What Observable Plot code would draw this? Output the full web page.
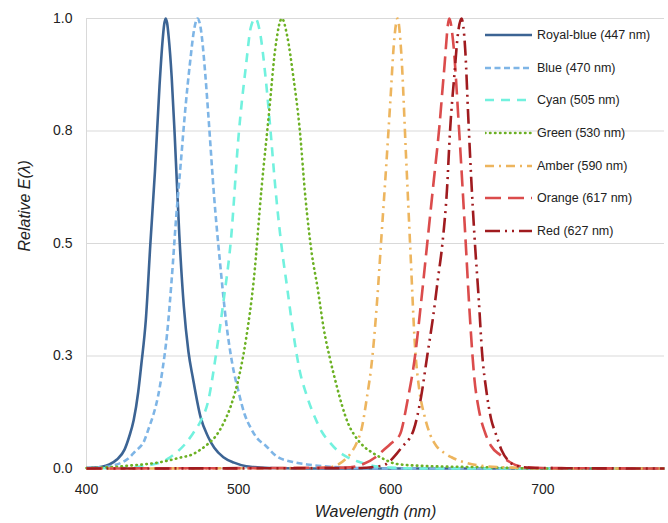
<!DOCTYPE html>
<html><head><meta charset="utf-8">
<script src="https://cdn.jsdelivr.net/npm/d3@7"></script>
<script src="https://cdn.jsdelivr.net/npm/@observablehq/plot@0.6"></script>
<style>
body{margin:0;background:#fff;font-family:"Liberation Sans",Arial,Helvetica,sans-serif;}
#wrap{position:relative;width:668px;height:523px;}
#legend{position:absolute;left:485px;top:18.6px;}
.row{display:flex;align-items:center;height:32.7px;font-size:12.5px;color:#222;white-space:nowrap;}
.row svg{margin-right:5px;display:block;}
</style></head><body><div id="wrap"><div id="chart"></div><div id="legend"></div></div>
<script>
const seriesNames = ["Royal-blue (447 nm)","Blue (470 nm)","Cyan (505 nm)","Green (530 nm)","Amber (590 nm)","Orange (617 nm)","Red (627 nm)"];
const xTicks = [400,500,600,700];
const yTicks = [0,0.25,0.5,0.75,1];

const royalBlueNm  = [400,410,415,420,425,428,431,434,436,439,442,445,448,450,451,452,453,454,456,458,461,464,467,470,475,480,484,490,497,505,510,520,540,780];
const royalBlueVal = [0.001,0.004,0.009,0.02,0.042,0.07,0.107,0.17,0.23,0.33,0.5,0.66,0.85,0.95,0.985,1.0,0.99,0.96,0.87,0.74,0.52,0.36,0.26,0.2,0.114,0.07,0.046,0.025,0.013,0.005,0.003,0.001,0,0];

const blueNm  = [400,410,418,423,427,432,438,441,444,447,450,453,456,459,462,465,468,471,473,475,478,480,484,488,492,496,500,504,508,512,518,525,535,545,560,580,600,780];
const blueVal = [0.001,0.003,0.007,0.013,0.021,0.038,0.062,0.09,0.12,0.16,0.22,0.3,0.42,0.56,0.68,0.8,0.9,0.98,1.0,0.98,0.88,0.79,0.6,0.45,0.32,0.23,0.17,0.12,0.09,0.068,0.05,0.027,0.015,0.009,0.004,0.001,0,0];

const cyanNm  = [400,430,440,450,455,460,465,470,475,480,485,490,495,500,505,508,511,514,518,521,524,528,532,536,540,545,550,555,560,565,570,578,590,600,620,780];
const cyanVal = [0,0.002,0.007,0.015,0.025,0.038,0.055,0.078,0.105,0.15,0.25,0.37,0.51,0.74,0.9,0.98,1.0,0.97,0.86,0.75,0.63,0.5,0.4,0.3,0.22,0.16,0.115,0.08,0.058,0.04,0.028,0.016,0.005,0.002,0,0];

const greenNm  = [400,410,420,430,440,450,460,470,475,480,485,490,495,500,505,510,515,520,524,528.5,532,536,540,544,548,552,556,560,564,568,572,576,582,589,596,604,620,640,660,680,700,780];
const greenVal = [0.001,0.002,0.004,0.007,0.01,0.015,0.023,0.032,0.042,0.055,0.072,0.1,0.14,0.2,0.29,0.42,0.62,0.79,0.93,1.0,0.96,0.87,0.76,0.6,0.48,0.4,0.31,0.245,0.19,0.14,0.1,0.075,0.05,0.033,0.02,0.01,0.006,0.004,0.003,0.001,0,0];

const amberNm  = [400,550,560,565,570,574,578,581,584,588,591,594,597,600,602,604.5,607,610,613,616,619,622,626,630,635,640,650,660,680,700,780];
const amberVal = [0,0.001,0.003,0.008,0.02,0.035,0.06,0.09,0.15,0.25,0.37,0.52,0.67,0.83,0.94,1,0.92,0.7,0.48,0.27,0.17,0.12,0.075,0.05,0.035,0.025,0.012,0.006,0.002,0,0];

const orangeNm  = [400,570,582,590,595,600,606,611,616,620,624,628,632,635,638.5,641,645,649,652,655,658,662,666,672,678,685,700,780];
const orangeVal = [0,0.002,0.01,0.025,0.04,0.055,0.075,0.15,0.25,0.37,0.5,0.63,0.76,0.88,1,0.95,0.75,0.52,0.34,0.2,0.13,0.08,0.05,0.03,0.015,0.005,0.001,0];

const redNm  = [400,580,590,596,600,604,608,612,615,620,624,628,631,634,637,639,642,644,646.5,649,651,653,655,658,660,663,666,669,673,678,684,695,780];
const redVal = [0,0.001,0.004,0.008,0.018,0.033,0.05,0.065,0.085,0.16,0.25,0.34,0.42,0.5,0.62,0.75,0.88,0.96,1,0.93,0.78,0.64,0.52,0.37,0.26,0.17,0.11,0.078,0.04,0.015,0.005,0.001,0];

const seriesNm  = [royalBlueNm, blueNm, cyanNm, greenNm, amberNm, orangeNm, redNm];
const seriesVal = [royalBlueVal, blueVal, cyanVal, greenVal, amberVal, orangeVal, redVal];

const seriesColors = ["#3C6494","#7EB5E6","#72F1DE","#6CB124","#EDB55E","#DB4C4C","#A01B1F"];
const seriesDash   = [null,"6 3.5","9 7","0.5 4.5","9 5 2 5","16 7","15 5 2 5 2 5"];
const seriesCap    = ["butt","butt","butt","round","butt","butt","butt"];

const font = '"Liberation Sans", Arial, Helvetica, sans-serif';

const lineMarks = seriesNames.map((name, i) => {
  const rows = seriesNm[i].map((x, j) => ({x, y: seriesVal[i][j], name}));
  const opts = {x: "x", y: "y", stroke: seriesColors[i], strokeWidth: 2.6, strokeLinecap: seriesCap[i], curve: "monotone-x"};
  if (seriesDash[i]) opts.strokeDasharray = seriesDash[i];
  return Plot.line(rows, opts);
});

const chart = Plot.plot({
  width: 668, height: 523,
  marginLeft: 86, marginRight: 4, marginTop: 18, marginBottom: 55,
  x: {domain: [400, 780], label: null},
  y: {domain: [0, 1], label: null},
  style: {fontFamily: font, fontSize: "14px", color: "#222", background: "#fff"},
  marks: [
    Plot.gridY(yTicks, {stroke: "#d9d9d9", strokeOpacity: 1, strokeWidth: 1}),
    Plot.ruleX([400], {stroke: "#d9d9d9", strokeWidth: 1}),
    ...lineMarks,
    Plot.axisX(xTicks, {tickSize: 0, tickPadding: 16, label: null, fontSize: 14}),
    Plot.axisY(yTicks, {tickSize: 0, tickPadding: 14, label: null, tickFormat: d3.format(".1f"), fontSize: 14}),
    Plot.text(["Wavelength (nm)"], {frameAnchor: "bottom", dy: 48, fontSize: 16, fontStyle: "italic", fill: "#222"}),
    Plot.text(["Relative E(λ)"], {frameAnchor: "left", dx: -62, dy: 8, rotate: -90, fontSize: 16, fontStyle: "italic", fill: "#222"})
  ]
});
document.getElementById("chart").appendChild(chart);

const legend = document.getElementById("legend");
seriesNames.forEach((name, i) => {
  const row = document.createElement("div");
  row.className = "row";
  const dash = seriesDash[i] ? `stroke-dasharray="${seriesDash[i]}"` : "";
  row.innerHTML = `<svg width="47" height="10"><line x1="0" y1="5" x2="47" y2="5" stroke="${seriesColors[i]}" stroke-width="2.5" stroke-linecap="${seriesCap[i]}" ${dash}/></svg><span>${name}</span>`;
  legend.appendChild(row);
});
</script>
</body></html>
